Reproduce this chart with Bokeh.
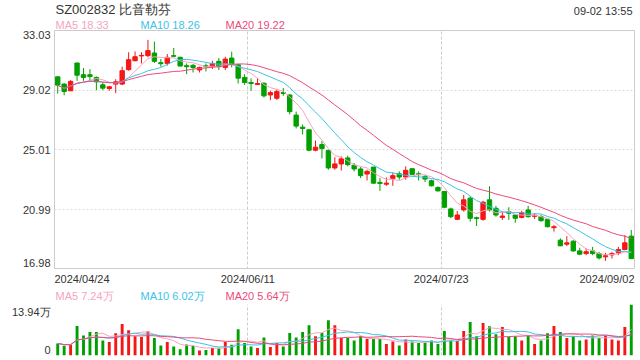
from bokeh.plotting import figure
from bokeh.models import Range1d, Label, FixedTicker, ColumnDataSource
from bokeh.layouts import column, row
from bokeh.embed import file_html
from bokeh.resources import INLINE

# ---------------- data ----------------
title_text = "SZ002832 比音勒芬"
time_text = "09-02 13:55"
date_labels = ["2024/04/24", "2024/06/11", "2024/07/23", "2024/09/02"]
date_pos = [0, 30, 60, 90]          # band edges (trading-day index)
price_ticks = [16.98, 20.99, 25.01, 29.02, 33.03]
vol_max = 13.94
vol_tick_labels = ["0", "13.94万"]
ma_price_text = ["MA5 18.33", "MA10 18.26", "MA20 19.22"]
ma_vol_text = ["MA5 7.24万", "MA10 6.02万", "MA20 5.64万"]

open_ = [29.92, 29.43, 28.98, 30.85, 30.06, 30.06, 29.88, 29.38, 29.13, 29.43,
         29.43, 30.40, 31.00, 31.32, 31.34, 31.52, 30.87, 30.82, 31.34, 31.23,
         30.67, 30.69, 30.38, 30.66, 30.60, 30.96, 30.55, 31.18, 30.73, 29.88,
         29.54, 29.40, 29.49, 28.70, 28.48, 28.86, 28.70, 27.35, 26.54, 26.36,
         24.99, 25.37, 24.97, 23.80, 24.07, 24.47, 23.98, 23.73, 23.39, 23.86,
         22.83, 22.71, 23.10, 23.41, 23.19, 23.75, 23.41, 23.23, 22.94, 22.49,
         22.22, 21.05, 20.35, 20.98, 21.77, 20.46, 20.35, 21.66, 21.09, 20.48,
         20.87, 20.64, 20.48, 20.98, 20.55, 20.53, 20.35, 19.79, 18.95, 18.68,
         18.88, 18.23, 18.05, 18.23, 18.05, 17.83, 17.96, 18.10, 18.32, 19.22]
high = [29.92, 29.49, 29.70, 30.85, 30.51, 30.44, 29.94, 29.54, 29.31, 29.76,
        30.60, 31.57, 31.63, 31.57, 32.40, 32.29, 31.12, 31.45, 31.86, 31.27,
        30.82, 30.78, 30.60, 30.82, 31.00, 31.18, 31.27, 31.61, 30.78, 30.10,
        29.81, 29.83, 29.54, 28.98, 29.09, 29.16, 28.75, 27.58, 26.72, 26.36,
        25.64, 25.60, 25.03, 24.52, 24.58, 24.63, 24.13, 23.86, 23.68, 23.86,
        23.12, 23.16, 23.50, 23.57, 23.91, 23.75, 23.57, 23.35, 23.01, 22.56,
        22.22, 21.14, 20.91, 21.99, 21.88, 20.53, 21.59, 22.56, 21.25, 20.87,
        21.16, 20.71, 20.93, 21.25, 20.76, 20.64, 20.35, 19.97, 19.07, 19.22,
        18.95, 18.44, 18.39, 18.50, 18.17, 18.10, 18.17, 18.50, 19.29, 19.63]
low = [28.80, 28.68, 28.98, 29.65, 29.65, 29.70, 29.02, 29.02, 28.98, 28.82,
       29.36, 30.33, 30.96, 30.82, 31.23, 30.85, 30.60, 30.67, 31.23, 30.64,
       30.10, 30.21, 30.21, 30.28, 30.44, 30.37, 30.37, 30.55, 29.47, 29.38,
       28.98, 29.40, 28.53, 28.35, 28.37, 28.64, 27.40, 26.45, 26.05, 24.92,
       24.92, 24.43, 23.68, 23.68, 23.62, 23.91, 23.57, 23.12, 22.96, 22.74,
       22.26, 22.60, 22.60, 23.01, 23.01, 23.35, 22.96, 22.85, 22.56, 22.22,
       21.09, 20.42, 20.30, 20.87, 20.19, 19.90, 20.26, 20.87, 20.53, 20.31,
       20.31, 20.12, 20.42, 20.46, 20.37, 20.19, 19.81, 19.52, 18.55, 18.55,
       18.17, 17.94, 17.94, 17.94, 17.65, 17.56, 17.71, 17.94, 18.28, 17.71]
close = [29.36, 28.93, 29.61, 30.03, 29.88, 29.94, 29.58, 29.16, 29.25, 29.58,
         30.33, 31.07, 31.27, 31.36, 31.68, 30.96, 30.80, 31.23, 31.30, 30.64,
         30.60, 30.55, 30.55, 30.60, 30.82, 30.60, 31.11, 30.78, 29.83, 29.54,
         29.47, 29.47, 28.64, 28.86, 28.93, 28.80, 27.58, 26.61, 26.45, 24.99,
         25.19, 25.10, 23.80, 24.07, 24.41, 24.02, 23.73, 23.28, 23.57, 22.78,
         22.76, 22.78, 23.28, 23.19, 23.64, 23.37, 23.35, 23.05, 22.60, 22.26,
         21.16, 20.53, 20.64, 21.66, 20.42, 20.40, 21.50, 20.98, 20.64, 20.57,
         20.76, 20.42, 20.80, 20.53, 20.62, 20.26, 19.85, 19.85, 18.57, 18.77,
         18.23, 18.01, 18.17, 18.05, 17.76, 17.90, 18.05, 18.32, 18.77, 17.71]
volume = [3.30, 2.66, 2.93, 8.07, 5.50, 6.42, 6.42, 4.13, 3.67, 6.05,
          8.62, 6.88, 5.23, 5.04, 6.60, 4.77, 2.75, 3.67, 2.48, 1.74,
          3.03, 2.57, 1.38, 1.47, 2.02, 2.11, 3.67, 2.93, 7.15, 3.39,
          2.48, 2.02, 4.95, 2.29, 3.39, 2.48, 6.14, 4.95, 6.42, 8.25,
          5.23, 6.14, 9.63, 8.25, 4.77, 4.77, 4.13, 5.23, 4.49, 4.49,
          4.49, 3.12, 3.85, 2.75, 4.40, 3.85, 3.39, 3.39, 4.13, 3.12,
          6.69, 4.13, 3.94, 6.69, 9.17, 5.23, 8.89, 7.98, 5.78, 7.79,
          5.04, 5.23, 4.13, 5.32, 3.12, 4.13, 6.05, 8.07, 6.42, 4.77,
          5.23, 4.13, 4.40, 5.50, 4.77, 5.41, 4.40, 4.13, 7.79, 13.94]

# ---------------- style ----------------
RED = "#f51616"
GREEN = "#00a000"
MA5C = "#f7a3c0"
MA10C = "#3cc3e6"
MA20C = "#ec4a7c"
TXT = "#333333"
FONT = "Liberation Sans"
N = len(close)
W = 640
LEFT = 54      # width of the y-label column
RIGHT = 6


def moving_avg(vals, n):
    out = []
    for i in range(len(vals)):
        w = vals[max(0, i - n + 1):i + 1]
        out.append(sum(w) / len(w))
    return out


def bare(p):
    p.xaxis.visible = False
    p.yaxis.visible = False
    p.xgrid.visible = False
    p.ygrid.visible = False
    p.outline_line_color = None
    p.background_fill_color = "white"
    p.border_fill_color = "white"
    return p


def add_label(p, x, y, text, color=TXT, size="11px", align="left", baseline="middle",
              xu="screen", yu="screen", xo=0, yo=0):
    p.add_layout(Label(x=x, y=y, x_units=xu, y_units=yu, text=text,
                       text_color=color, text_font=FONT, text_font_size=size,
                       text_align=align, text_baseline=baseline,
                       x_offset=xo, y_offset=yo))


xs = [i + 0.5 for i in range(N)]
colors = [RED if c >= o else GREEN for o, c in zip(open_, close)]
src = ColumnDataSource(dict(
    x=xs, o=open_, h=high, l=low, c=close,
    top=[max(o, c) for o, c in zip(open_, close)],
    bottom=[min(o, c) for o, c in zip(open_, close)],
    color=colors, vol=volume))
x_range = Range1d(0, N)
price_range = Range1d(price_ticks[0], price_ticks[-1])
vol_range = Range1d(0, vol_max)
ma_colors = [MA5C, MA10C, MA20C]
ma_x = [1, 86, 171]

# ---------------- header row ----------------
H_HEAD = 30
head = bare(figure(width=W, height=H_HEAD, output_backend="svg", toolbar_location=None,
                   x_range=Range1d(0, 1), y_range=Range1d(0, 1),
                   min_border_left=LEFT, min_border_right=RIGHT, min_border_top=0,
                   min_border_bottom=0))
add_label(head, 1, H_HEAD - 9, title_text, size="13px")
add_label(head, W - LEFT - RIGHT - 2, H_HEAD - 10, time_text, align="right")
for t, c, x in zip(ma_price_text, ma_colors, ma_x):
    add_label(head, x, H_HEAD - 24, t, color=c)

# ---------------- price panel ----------------
H_PRICE = 239
p1 = figure(width=W - LEFT, height=H_PRICE, output_backend="svg", toolbar_location=None,
            x_range=x_range, y_range=price_range,
            min_border_left=0, min_border_right=RIGHT, min_border_top=0,
            min_border_bottom=0)
p1.xaxis.visible = False
p1.yaxis.visible = False
p1.outline_line_color = "#cccccc"
p1.background_fill_color = "white"
p1.border_fill_color = "white"
p1.xgrid.ticker = FixedTicker(ticks=date_pos[1:3])
p1.xgrid.grid_line_color = "#cccccc"
p1.xgrid.grid_line_dash = "3 2"
p1.ygrid.ticker = FixedTicker(ticks=price_ticks[1:4])
p1.ygrid.grid_line_color = "#dddddd"
p1.ygrid.grid_line_dash = "2 2"

p1.segment(x0="x", y0="l", x1="x", y1="h", line_color="color", line_width=1, source=src)
p1.vbar(x="x", width=0.68, top="top", bottom="bottom", fill_color="color",
        line_color="color", line_width=1, source=src)
p1.line(xs, moving_avg(close, 5), line_color=MA5C, line_width=1)
p1.line(xs, moving_avg(close, 10), line_color=MA10C, line_width=1)
p1.line(xs, moving_avg(close, 20), line_color=MA20C, line_width=1)

# price tick labels column
pl1 = bare(figure(width=LEFT, height=H_PRICE, output_backend="svg", toolbar_location=None,
                  x_range=Range1d(0, 1), y_range=price_range,
                  min_border_left=0, min_border_right=0, min_border_top=0,
                  min_border_bottom=0))
for i, v in enumerate(price_ticks):
    if i == 0:
        base, yo = "bottom", 3
    elif i == len(price_ticks) - 1:
        base, yo = "top", 0
    else:
        base, yo = "middle", 0
    add_label(pl1, LEFT - 4, v, f"{v:.2f}", align="right", baseline=base, yu="data", yo=yo)

# ---------------- date / volume legend row ----------------
H_MID = 35
mid = bare(figure(width=W, height=H_MID, output_backend="svg", toolbar_location=None,
                  x_range=x_range, y_range=Range1d(0, 1),
                  min_border_left=LEFT, min_border_right=RIGHT, min_border_top=0,
                  min_border_bottom=0))
aligns = ["left", "center", "center", "right"]
for t, xp, al in zip(date_labels, date_pos, aligns):
    add_label(mid, xp, H_MID - 9, t, align=al, xu="data")
for t, c, x in zip(ma_vol_text, ma_colors, ma_x):
    add_label(mid, x, H_MID - 26, t, color=c)

# ---------------- volume panel ----------------
H_VOL = 360 - H_HEAD - H_PRICE - H_MID
VB = 5
p2 = figure(width=W - LEFT, height=H_VOL, output_backend="svg", toolbar_location=None,
            x_range=x_range, y_range=vol_range,
            min_border_left=0, min_border_right=RIGHT, min_border_top=0,
            min_border_bottom=VB)
p2.xaxis.visible = False
p2.yaxis.visible = False
p2.outline_line_color = None
p2.background_fill_color = "white"
p2.border_fill_color = "white"
p2.xgrid.ticker = FixedTicker(ticks=date_pos[1:3])
p2.xgrid.grid_line_color = "#cccccc"
p2.xgrid.grid_line_dash = "3 2"
p2.ygrid.ticker = FixedTicker(ticks=[vol_max])
p2.ygrid.grid_line_color = "#cccccc"
p2.ygrid.grid_line_dash = "2 2"

p2.vbar(x="x", width=0.45, top="vol", bottom=0, fill_color="color",
        line_color=None, source=src)
p2.line(xs, moving_avg(volume, 5), line_color=MA5C, line_width=1)
p2.line(xs, moving_avg(volume, 10), line_color=MA10C, line_width=1)
p2.line(xs, moving_avg(volume, 20), line_color=MA20C, line_width=1)

pl2 = bare(figure(width=LEFT, height=H_VOL, output_backend="svg", toolbar_location=None,
                  x_range=Range1d(0, 1), y_range=vol_range,
                  min_border_left=0, min_border_right=0, min_border_top=0,
                  min_border_bottom=VB))
add_label(pl2, LEFT - 4, 0, vol_tick_labels[0], align="right", baseline="bottom",
          yu="data", yo=2)
add_label(pl2, LEFT - 4, vol_max, vol_tick_labels[1], align="right", baseline="top",
          yu="data", yo=-1)

layout = column(head, row(pl1, p1), mid, row(pl2, p2))
open("out.html", "w").write(file_html(layout, INLINE))
